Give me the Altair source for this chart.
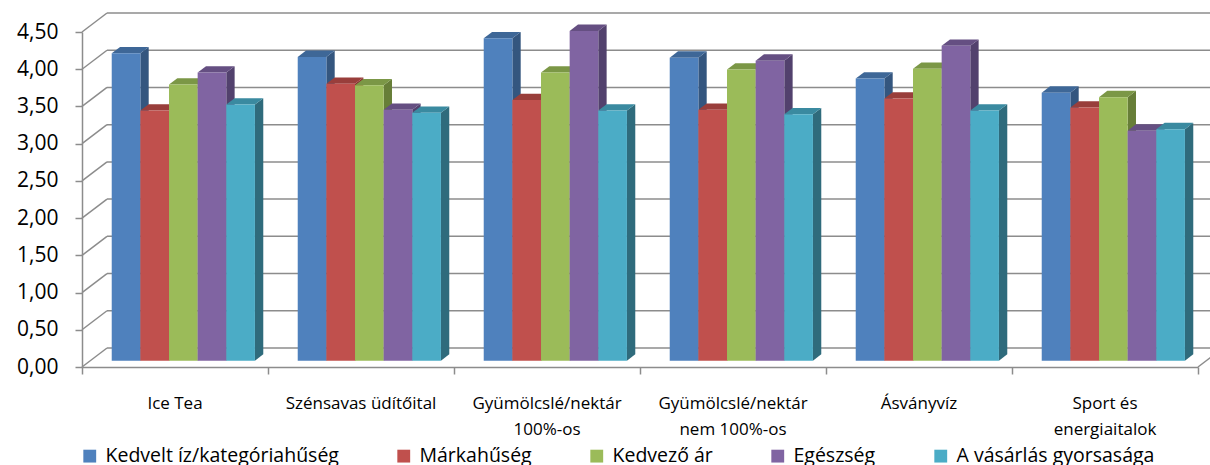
import altair as alt
import pandas as pd

# --- chart data -------------------------------------------------------------
categories = [
    "Ice Tea",
    "Szénsavas üdítőital",
    "Gyümölcslé/nektár\n100%-os",
    "Gyümölcslé/nektár\nnem 100%-os",
    "Ásványvíz",
    "Sport és\nenergiaitalok",
]
series = [
    "Kedvelt íz/kategóriahűség",
    "Márkahűség",
    "Kedvező ár",
    "Egészség",
    "A vásárlás gyorsasága",
]
kedvelt_iz = [4.13, 4.08, 4.33, 4.07, 3.79, 3.60]
markahuseg = [3.36, 3.72, 3.50, 3.37, 3.52, 3.40]
kedvezo_ar = [3.71, 3.70, 3.87, 3.91, 3.92, 3.54]
egeszseg = [3.87, 3.37, 4.43, 4.03, 4.23, 3.09]
gyorsasag = [3.44, 3.33, 3.36, 3.31, 3.36, 3.11]
series_values = [kedvelt_iz, markahuseg, kedvezo_ar, egeszseg, gyorsasag]
y_ticks = [0.0, 0.5, 1.0, 1.5, 2.0, 2.5, 3.0, 3.5, 4.0, 4.5]

# --- styling ----------------------------------------------------------------
front_colors = ["#4F81BD", "#C0504D", "#9BBB59", "#8064A2", "#4BACC6"]
top_colors = ["#3E6797", "#993E3B", "#7B9746", "#654F82", "#3A8AA0"]
side_colors = ["#34567F", "#89302E", "#677E38", "#52416D", "#2F6B7C"]
GRID = "#8C8C8C"
FONT = "Open Sans"

W, H = 1116, 335            # plot area in pixels
X_MAX, Y_MAX = len(categories), 4.5
ux, uy = X_MAX / W, Y_MAX / H   # data units per pixel
DEPTH_PX = (25, 19)         # oblique depth of the chart box
wall_x, wall_y = DEPTH_PX[0] * ux, DEPTH_PX[1] * uy
fx, fy = wall_x / 3, wall_y / 3   # bars start a third of the way in
dx, dy = wall_x / 3, wall_y / 3   # and are a third of the box deep
GROUP = 0.77
bw = GROUP / len(series)

# --- derived tables ---------------------------------------------------------
bars, sides, tops = [], [], []
for i, cat in enumerate(categories):
    for j, s in enumerate(series):
        v = series_values[j][i]
        x0 = i + (1 - GROUP) / 2 + j * bw
        x1 = x0 + bw
        bid = f"{i}-{j}"
        bars.append(dict(series=s, x=x0 + fx, x2=x1 + fx, y=fy, y2=v + fy))
        sides.append(dict(bid=bid, c=side_colors[j], x=x1 + fx, y=fy, y2=v + fy))
        sides.append(dict(bid=bid, c=side_colors[j], x=x1 + fx + dx, y=fy + dy, y2=v + fy + dy))
        tops.append(dict(bid=bid, c=top_colors[j], y=v + fy, x=x0 + fx, x2=x1 + fx))
        tops.append(dict(bid=bid, c=top_colors[j], y=v + fy + dy, x=x0 + fx + dx, x2=x1 + fx + dx))
bars, sides, tops = pd.DataFrame(bars), pd.DataFrame(sides), pd.DataFrame(tops)

left_wall = pd.DataFrame(dict(x=0.0, x2=wall_x, y=y_ticks, y2=[t + wall_y for t in y_ticks]))
back_wall = pd.DataFrame(dict(x=wall_x, x2=X_MAX + wall_x, y=[t + wall_y for t in y_ticks]))
floor_edge = pd.DataFrame(dict(x=[float(X_MAX)], x2=[X_MAX + wall_x], y=[0.0], y2=[wall_y]))
labels = pd.DataFrame(dict(x=[i + 0.5 for i in range(len(categories))], label=categories))

xs = alt.Scale(domain=[0, X_MAX], nice=False, zero=False)
ys = alt.Scale(domain=[0, Y_MAX], nice=False, zero=False)

# the same axis objects are given to every layer so the merged axes agree
x_axis = alt.Axis(
    values=list(range(X_MAX + 1)), labels=False, title=None, grid=False,
    tickSize=7, tickColor=GRID, domainColor=GRID, domainWidth=1.5, tickWidth=1.5,
)
y_axis = alt.Axis(
    values=y_ticks, title=None, grid=False, tickSize=7, tickColor=GRID,
    domainColor=GRID, domainWidth=1.5, tickWidth=1.5,
    labelExpr="replace(format(datum.value, '.2f'), '.', ',')",
    labelFont=FONT, labelFontSize=21, labelColor="#000000", labelPadding=17,
)
X = lambda f: alt.X(f, scale=xs, axis=x_axis)
Y = lambda f: alt.Y(f, scale=ys, axis=y_axis)

# --- layers -----------------------------------------------------------------
wall_left = alt.Chart(left_wall).mark_rule(color=GRID, strokeWidth=1.5).encode(
    x=X("x:Q"), x2="x2", y=Y("y:Q"), y2="y2"
)
wall_back = alt.Chart(back_wall).mark_rule(color=GRID, strokeWidth=1.5).encode(
    x=X("x:Q"), x2="x2", y=Y("y:Q")
)
floor_right = alt.Chart(floor_edge).mark_rule(color=GRID, strokeWidth=1.5).encode(
    x=X("x:Q"), x2="x2", y=Y("y:Q"), y2="y2"
)

side_faces = alt.Chart(sides).mark_area(orient="vertical").encode(
    x=X("x:Q"), y=Y("y:Q"), y2="y2",
    detail="bid:N",
    color=alt.Color("c:N", scale=None),
)
top_faces = alt.Chart(tops).mark_area(orient="horizontal").encode(
    y=Y("y:Q"), x=X("x:Q"), x2="x2",
    detail="bid:N",
    color=alt.Color("c:N", scale=None),
)
front_faces = alt.Chart(bars).mark_rect().encode(
    x=X("x:Q"), x2="x2", y=Y("y:Q"), y2="y2",
    color=alt.Color(
        "series:N",
        scale=alt.Scale(domain=series, range=front_colors),
        sort=series,
        legend=alt.Legend(
            title=None, orient="none", direction="horizontal", columns=5,
            legendX=-2, legendY=414, symbolType="square", symbolSize=165,
            symbolStrokeWidth=0, labelFont=FONT, labelFontSize=19.5, labelColor="#000000",
            labelOffset=6, columnPadding=55, labelLimit=400,
        ),
    ),
)
cat_labels = alt.Chart(labels).mark_text(
    font=FONT, fontSize=17, color="#000000", baseline="alphabetic",
    lineBreak="\n", lineHeight=26, align="center",
).encode(
    x=X("x:Q"),
    y=alt.value(377),
    text="label:N",
)

chart = (
    alt.layer(wall_left, wall_back, floor_right, side_faces, top_faces, front_faces, cat_labels)
    .properties(
        width=W, height=H,
        padding={"left": 82, "top": 32, "right": 12, "bottom": 98},
        autosize=alt.AutoSizeParams(type="none"),
        background="#FFFFFF",
    )
    .configure_view(stroke=None)
)

chart.save("out.html", embed_options={"renderer": "svg", "actions": False})
